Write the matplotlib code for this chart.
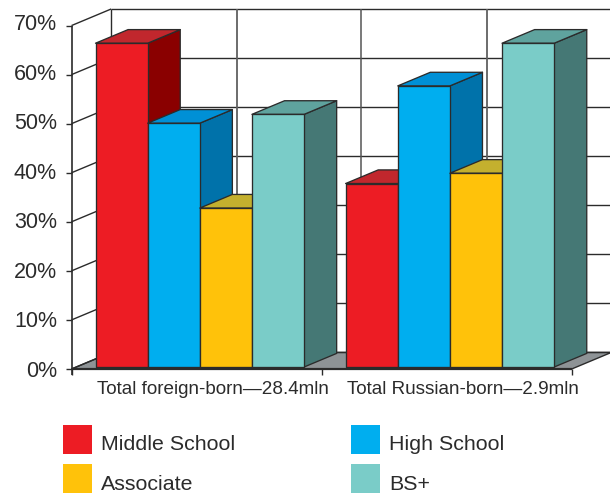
import matplotlib
matplotlib.use("Agg")
import matplotlib.pyplot as plt
from matplotlib.patches import Polygon, Rectangle

plt.rcParams['font.family'] = ['Liberation Sans', 'DejaVu Sans']

groups = ["Total foreign-born\u201428.4mln", "Total Russian-born\u20142.9mln"]
levels = ["Middle School", "High School", "Associate", "BS+"]
middle_school = [66.0, 37.4]
high_school = [49.7, 57.3]
associate = [32.4, 39.5]
bs_plus = [51.5, 66.0]
y_ticks = [0, 10, 20, 30, 40, 50, 60, 70]

front_colors = ["#ED1C24", "#00AEEF", "#FFC20A", "#7ACCC8"]
top_colors = ["#C1272D", "#0090D6", "#C4B02E", "#5FA39E"]
side_colors = ["#8A0000", "#0072AA", "#A08A10", "#457875"]
INK = "#2B2B2B"

W, H = 610, 493
X0, Y0 = 71.5, 369.0      # origin of the front plane, in pixels
PX_GROUP = 250.1          # pixels per category
PX_PCT = 4.906            # pixels per percentage point
SHEAR_X = 39.7 / PX_GROUP # depth offset of the back wall, in data units
SHEAR_Y = 16.6 / PX_PCT

fig = plt.figure(figsize=(W / 100, H / 100), dpi=100)
ax = fig.add_axes([0, 0, 1, 1])
ax.set_xlim(-X0 / PX_GROUP, (W - X0) / PX_GROUP)
ax.set_ylim((Y0 - H) / PX_PCT, Y0 / PX_PCT)
ax.axis("off")


def proj(x, y, d=0.0):
    """Oblique projection of a point at depth d (0 front, 1 back)."""
    return (x + d * SHEAR_X, y + d * SHEAR_Y)


def line(p, q, color=INK, lw=1.0, z=2):
    ax.plot([p[0], q[0]], [p[1], q[1]], color=color, lw=lw, zorder=z,
            solid_capstyle="butt", clip_on=False)


top = y_ticks[-1]
n = len(groups)

# floor
ax.add_patch(Polygon([proj(0, 0), proj(n, 0), proj(n, 0, 1), proj(0, 0, 1)],
                     closed=True, fc="#8E9396", ec=INK, lw=1.0, zorder=1))

# back wall and side wall grid
for t in y_ticks:
    line(proj(0, t, 1), proj(n + 0.1, t, 1), lw=1.0)
    line(proj(0, t), proj(0, t, 1), lw=1.0)
line(proj(0, 0, 1), proj(0, top, 1), lw=1.0)
for g in range(1, n + 1):
    line(proj(g, 0, 1), proj(g, top, 1), color="#555555", lw=1.1)
for g in range(n):
    line(proj(g + 0.504, 0, 1), proj(g + 0.504, top, 1), color="#606060", lw=1.3)

# front axes
line(proj(0, top), (0, -1.2), lw=1.2, z=6)
line(proj(0, 0), proj(n, 0), lw=1.6, z=6)
for t in y_ticks:
    line((-0.022, t), (0, t), lw=1.0, z=6)
    ax.text(-0.0575, t - 0.47 + t * 0.0089, f"{t}%", ha="right", va="center",
            fontsize=15.5, color=INK, zorder=7)
for g in range(n + 1):
    line((g, 0), (g, -1.2), lw=1.0, z=6)

# bars
series = [middle_school, high_school, associate, bs_plus]
BAR_W = 0.2085
D_FRONT, D_BACK = 0.12, 0.94
GROUP_PAD = 0.077
z = 3
for g in range(n):
    for i, vals in enumerate(series):
        v = vals[g]
        x0 = g + GROUP_PAD + i * BAR_W
        x1 = x0 + BAR_W
        fl, fr = proj(x0, 0, D_FRONT), proj(x1, 0, D_FRONT)
        # the base sits on the floor at D_FRONT; the height above it is v
        tl = (fl[0], fl[1] + v)
        tr = (fr[0], fr[1] + v)
        dx = (D_BACK - D_FRONT) * SHEAR_X
        dy = (D_BACK - D_FRONT) * SHEAR_Y
        ax.add_patch(Polygon([fr, tr, (tr[0] + dx, tr[1] + dy), (fr[0] + dx, fr[1] + dy)],
                             closed=True, fc=side_colors[i], ec=INK, lw=0.95, zorder=z,
                             joinstyle="round"))
        ax.add_patch(Polygon([tl, tr, (tr[0] + dx, tr[1] + dy), (tl[0] + dx, tl[1] + dy)],
                             closed=True, fc=top_colors[i], ec=INK, lw=0.95, zorder=z,
                             joinstyle="round"))
        ax.add_patch(Polygon([fl, fr, tr, tl], closed=True, fc=front_colors[i],
                             ec=INK, lw=0.95, zorder=z, joinstyle="round"))
        z += 0.01

# category labels
for g, label in enumerate(groups):
    ax.text(g + 0.566, -4.2, label, ha="center", va="center",
            fontsize=13.6, color=INK)

# legend
key_w = 29 / PX_GROUP
key_h = 29 / PX_PCT
key_x = [(63 - X0) / PX_GROUP, (351 - X0) / PX_GROUP]
key_y = [(Y0 - 454) / PX_PCT, (Y0 - 493) / PX_PCT]
for i, name in enumerate(levels):
    kx = key_x[i % 2]
    ky = key_y[i // 2]
    ax.add_patch(Rectangle((kx, ky), key_w, key_h, fc=front_colors[i], ec="none", zorder=3))
    ax.text(kx + 38 / PX_GROUP, ky + (9 if i < 2 else 8.5) / PX_PCT, name, ha="left",
            va="center", fontsize=15.4, color=INK)

fig.savefig("out.png", dpi=100)
